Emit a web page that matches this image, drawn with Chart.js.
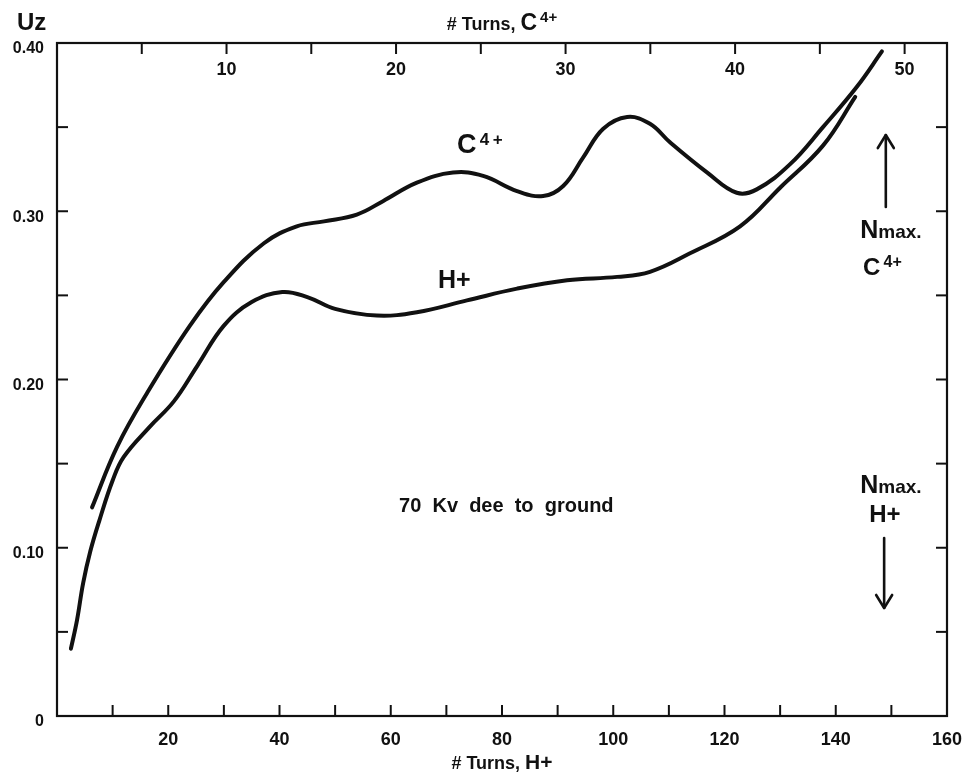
<!DOCTYPE html>
<html><head><meta charset="utf-8">
<script src="https://cdn.jsdelivr.net/npm/chart.js@4.4.0/dist/chart.umd.min.js"></script>
<style>html,body{margin:0;padding:0;background:#fff}#wrap{width:969px;height:778px}</style>
</head><body><div id="wrap"><canvas id="c" width="969" height="778"></canvas></div>
<script>
// ---- data (x = # turns H+, y = Uz) ----
const hTurnsC = [6.3, 10.8, 16.2, 23.9, 30.0, 37.2, 43.1, 48.0, 53.9, 58.6, 64.7, 71.2, 76.6, 82.7, 87.4, 91.0, 94.6, 98.2, 102.5, 106.6, 110.2, 116.9, 122.2, 125.8, 131.8, 137.7, 143.8, 148.3];
const uzC     = [0.124, 0.160, 0.192, 0.232, 0.258, 0.281, 0.291, 0.294, 0.298, 0.306, 0.317, 0.323, 0.321, 0.312, 0.309, 0.315, 0.332, 0.349, 0.356, 0.352, 0.341, 0.323, 0.311, 0.313, 0.328, 0.350, 0.374, 0.395];
const hTurnsH = [2.5, 3.6, 4.7, 6.0, 7.6, 10.0, 12.0, 16.7, 21.0, 25.2, 30.0, 35.0, 40.5, 45.0, 50.0, 57.5, 64.7, 73.7, 82.7, 91.7, 100.7, 106.6, 113.8, 122.8, 130.0, 137.7, 143.5];
const uzH     = [0.040, 0.057, 0.079, 0.098, 0.116, 0.140, 0.154, 0.172, 0.187, 0.208, 0.232, 0.246, 0.252, 0.249, 0.242, 0.238, 0.240, 0.247, 0.254, 0.259, 0.261, 0.264, 0.275, 0.291, 0.314, 0.339, 0.368];

// ---- tick labels ----
const xTickLabelsH = [20, 40, 60, 80, 100, 120, 140, 160];
const xTickLabelsC = [10, 20, 30, 40, 50];
const yTickLabels  = [0, 0.10, 0.20, 0.30, 0.40];

const INK = '#111';
const FONT = '"Liberation Sans", Arial, sans-serif';

// annotations (data coordinates of the H+ / Uz axes)
const notes = [
  {x: 71.9, y: 0.3346, parts: [['C', 27, 0], ['\u20094\u2009+', 17, -8]]},
  {x: 68.5, y: 0.2544, parts: [['H+', 25, 0]]},
  {x: 61.5, y: 0.1210, parts: [['70  Kv  dee  to  ground', 20, 0]]},
  {x: 144.4, y: 0.2841, parts: [['N', 25, 0], ['max.', 19, 0]]},
  {x: 144.9, y: 0.2621, parts: [['C', 24, 0], ['\u20094+', 16, -8]]},
  {x: 144.4, y: 0.1325, parts: [['N', 25, 0], ['max.', 19, 0]]},
  {x: 146.0, y: 0.1153, parts: [['H+', 24, 0]]}
];
const arrows = [
  {x: 149.0, from: 0.3025, to: 0.3453},
  {x: 148.7, from: 0.1058, to: 0.0642}
];
const topTitle = [['# Turns, ', 18, 0], ['C', 23, 0], ['\u20094+', 15, -8]];
const bottomTitle = [['# Turns, ', 18, 0], ['H+', 21, 0]];

const isIn = (arr, v) => arr.some(a => Math.abs(a - v) < 1e-6);

function richWidth(ctx, parts) {
  let w = 0;
  parts.forEach(([t, s]) => { ctx.font = 'bold ' + s + 'px ' + FONT; w += ctx.measureText(t).width; });
  return w;
}
function drawRich(ctx, parts, x, y) {
  parts.forEach(([t, s, dy]) => {
    ctx.font = 'bold ' + s + 'px ' + FONT;
    ctx.fillText(t, x, y + dy);
    x += ctx.measureText(t).width;
  });
}

const framePlugin = {
  id: 'frame',
  afterDraw(chart) {
    const {ctx, chartArea: a, scales} = chart;
    ctx.save();
    ctx.strokeStyle = INK; ctx.lineWidth = 2.2; ctx.lineCap = 'butt';
    ctx.strokeRect(a.left, a.top, a.right - a.left, a.bottom - a.top);
    const L = 11;
    const seg = (x1, y1, x2, y2) => { ctx.beginPath(); ctx.moveTo(x1, y1); ctx.lineTo(x2, y2); ctx.stroke(); };
    ctx.lineWidth = 2;
    scales.x.ticks.forEach(t => {
      const p = scales.x.getPixelForValue(t.value);
      if (p > a.left + 2 && p < a.right - 2) seg(p, a.bottom, p, a.bottom - L);
    });
    ctx.fillStyle = INK;
    scales.x2.ticks.forEach(t => {
      if (Math.abs(t.value / 5 - Math.round(t.value / 5)) > 1e-6) return;
      const p = scales.x2.getPixelForValue(t.value);
      if (p > a.left + 2 && p < a.right - 2) seg(p, a.top, p, a.top + L);
      if (isIn(xTickLabelsC, t.value)) {
        ctx.font = 'bold 18px ' + FONT;
        ctx.textAlign = 'center'; ctx.textBaseline = 'middle';
        ctx.fillText(String(t.value), p, a.top + 27);
      }
    });
    scales.y.ticks.forEach(t => {
      const p = scales.y.getPixelForValue(t.value);
      if (p > a.top + 2 && p < a.bottom - 2) seg(a.left, p, a.left + L, p);
    });
    scales.y2.ticks.forEach(t => {
      const p = scales.y2.getPixelForValue(t.value);
      if (p > a.top + 2 && p < a.bottom - 2) seg(a.right, p, a.right - L, p);
    });

    ctx.textBaseline = 'alphabetic'; ctx.textAlign = 'left';
    // Uz label
    ctx.font = 'bold 24px ' + FONT;
    ctx.fillText('Uz', a.left - 40, a.top - 13);
    // axis titles
    const cx = (a.left + a.right) / 2;
    drawRich(ctx, topTitle, cx - richWidth(ctx, topTitle) / 2, a.top - 13);
    drawRich(ctx, bottomTitle, cx - richWidth(ctx, bottomTitle) / 2, a.bottom + 53);

    // annotations
    notes.forEach(n => {
      drawRich(ctx, n.parts, scales.x.getPixelForValue(n.x), scales.y.getPixelForValue(n.y));
    });
    // arrows
    ctx.lineWidth = 2.6; ctx.lineCap = 'round'; ctx.lineJoin = 'round';
    arrows.forEach(ar => {
      const x = scales.x.getPixelForValue(ar.x);
      const y1 = scales.y.getPixelForValue(ar.from);
      const y2 = scales.y.getPixelForValue(ar.to);
      seg(x, y1, x, y2);
      const dir = y2 < y1 ? 1 : -1;
      ctx.beginPath();
      ctx.moveTo(x - 8, y2 + dir * 13); ctx.lineTo(x, y2); ctx.lineTo(x + 8, y2 + dir * 13);
      ctx.stroke();
    });
    ctx.restore();
  }
};

const lineStyle = {
  borderColor: INK, borderWidth: 4, pointRadius: 0, fill: false,
  tension: 0.4, borderCapStyle: 'round', borderJoinStyle: 'round'
};

new Chart(document.getElementById('c'), {
  type: 'line',
  data: {
    datasets: [
      Object.assign({label: 'C4+', data: hTurnsC.map((x, i) => ({x, y: uzC[i]}))}, lineStyle),
      Object.assign({label: 'H+', data: hTurnsH.map((x, i) => ({x, y: uzH[i]}))}, lineStyle)
    ]
  },
  options: {
    responsive: false,
    animation: false,
    devicePixelRatio: 1,
    layout: {padding: 0},
    plugins: {legend: {display: false}, tooltip: {enabled: false}, title: {display: false}},
    scales: {
      x: {
        type: 'linear', position: 'bottom', min: 0, max: 160,
        grid: {display: false}, border: {display: false},
        ticks: {
          stepSize: 10, autoSkip: false, maxRotation: 0, padding: 5, color: INK,
          font: {family: FONT, size: 18, weight: 'bold'},
          callback: v => isIn(xTickLabelsH, v) ? String(v) : ''
        },
        afterFit: s => { s.height = 62; }
      },
      x2: {
        type: 'linear', position: 'top', min: 0, max: 52.5,
        grid: {display: false}, border: {display: false},
        ticks: {stepSize: 5, autoSkip: false, includeBounds: false, display: false},
        afterFit: s => { s.height = 43; }
      },
      y: {
        type: 'linear', position: 'left', min: 0, max: 0.4,
        grid: {display: false}, border: {display: false},
        ticks: {
          stepSize: 0.05, autoSkip: false, padding: 5, labelOffset: 6, color: INK,
          font: {family: FONT, size: 16, weight: 'bold'},
          callback: v => isIn(yTickLabels, v) ? (Math.abs(v) < 1e-9 ? '0' : v.toFixed(2)) : ''
        },
        afterFit: s => { s.width = 57; }
      },
      y2: {
        type: 'linear', position: 'right', min: 0, max: 0.4,
        grid: {display: false}, border: {display: false},
        ticks: {stepSize: 0.05, display: false},
        afterFit: s => { s.width = 22; }
      }
    }
  },
  plugins: [framePlugin]
});
</script>
</body></html>
